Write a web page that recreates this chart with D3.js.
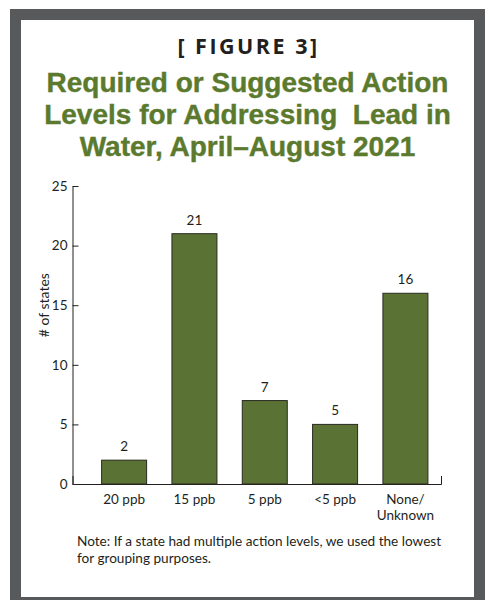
<!DOCTYPE html>
<html>
<head>
<meta charset="utf-8">
<script src="https://cdn.jsdelivr.net/npm/d3@7"></script>
<style>
  body { margin: 0; background: #fff; }
  svg text { fill: #231f20; white-space: pre; }
  .axis text { font-family: Lato, sans-serif; font-size: 13.5px; fill: #231f20; }
  .axis path, .axis line { stroke: #231f20; }
</style>
</head>
<body>
<svg id="chart"></svg>
<script>
const categories = ['20 ppb', '15 ppb', '5 ppb', '<5 ppb', 'None/\nUnknown'];
const states = [2, 21, 7, 5, 16];
const yTicks = [0, 5, 10, 15, 20, 25];
const titleLines = ['Required or Suggested Action', 'Levels for Addressing  Lead in', 'Water, April\u2013August 2021'];
const noteLines = ['Note: If a state had multiple action levels, we used the lowest', 'for grouping purposes.'];

const width = 487;
const height = 600;
const green = '#5a7233';

const svg = d3.select('#chart')
  .attr('width', width)
  .attr('height', height);

// frame
svg.append('rect')
  .attr('x', 10).attr('y', 9)
  .attr('width', 475).attr('height', 595)
  .attr('fill', '#58595b');
svg.append('rect')
  .attr('x', 21).attr('y', 20)
  .attr('width', 453).attr('height', 577)
  .attr('fill', '#fff');

const cx = 247.5;

svg.append('text')
  .attr('x', cx + 1)
  .attr('y', 54)
  .attr('text-anchor', 'middle')
  .attr('font-family', 'Open Sans, sans-serif')
  .attr('font-weight', 700)
  .attr('font-size', 21.5)
  .attr('letter-spacing', 2.5)
  .text('[ FIGURE 3]');

svg.append('g')
  .selectAll('text')
  .data(titleLines)
  .enter().append('text')
    .attr('x', cx)
    .attr('y', (d, i) => 92 + i * 32)
    .attr('text-anchor', 'middle')
    .attr('font-family', 'Liberation Sans, Arial, sans-serif')
    .attr('font-weight', 700)
    .attr('font-size', 28)
    .attr('stroke', '#5b7a2e')
    .attr('stroke-width', 0.4)
    .style('fill', '#5b7a2e')
    .text(d => d);

const x = d3.scaleBand()
  .domain(categories)
  .range([72.5, 441])
  .paddingInner(0.36)
  .paddingOuter(0.3)
  .align(0.69);

const y = d3.scaleLinear()
  .domain([0, 25])
  .range([484, 186]);

// x axis
const gx = svg.append('g')
  .attr('class', 'axis x')
  .attr('transform', `translate(0, ${y(0)})`)
  .call(d3.axisBottom(x).tickSizeInner(0).tickSizeOuter(-8).tickPadding(10));
gx.selectAll('.tick text').each(function(d) {
  const t = d3.select(this);
  const parts = d.split('\n');
  t.text(null);
  parts.forEach((p, i) => {
    t.append('tspan')
      .attr('x', 0)
      .attr('dy', i === 0 ? '0.71em' : '1.22em')
      .text(p);
  });
});

// y axis
svg.append('g')
  .attr('class', 'axis y')
  .attr('transform', `translate(${x.range()[0]}, 0)`)
  .call(d3.axisLeft(y).tickValues(yTicks).tickSizeInner(-6).tickSizeOuter(0).tickPadding(5));

svg.append('text')
  .attr('transform', `translate(49, ${y(15)}) rotate(-90)`)
  .attr('text-anchor', 'middle')
  .attr('font-family', 'Lato, sans-serif')
  .attr('font-size', 14)
  .text('# of states');

// bars
svg.append('g')
  .selectAll('rect')
  .data(states)
  .enter().append('rect')
    .attr('x', (d, i) => x(categories[i]))
    .attr('y', d => y(d))
    .attr('width', x.bandwidth())
    .attr('height', d => y(0) - y(d))
    .attr('fill', green)
    .attr('stroke', '#2a2a22')
    .attr('stroke-width', 1);

svg.append('g')
  .selectAll('text')
  .data(states)
  .enter().append('text')
    .attr('x', (d, i) => x(categories[i]) + x.bandwidth() / 2)
    .attr('y', d => y(d) - 9)
    .attr('text-anchor', 'middle')
    .attr('font-family', 'Lato, sans-serif')
    .attr('font-size', 13.5)
    .text(d => d);

// note
svg.append('g')
  .selectAll('text')
  .data(noteLines)
  .enter().append('text')
    .attr('x', 77)
    .attr('y', (d, i) => 546 + i * 17)
    .attr('font-family', 'Lato, sans-serif')
    .attr('font-size', 13.6)
    .text(d => d);
</script>
</body>
</html>
